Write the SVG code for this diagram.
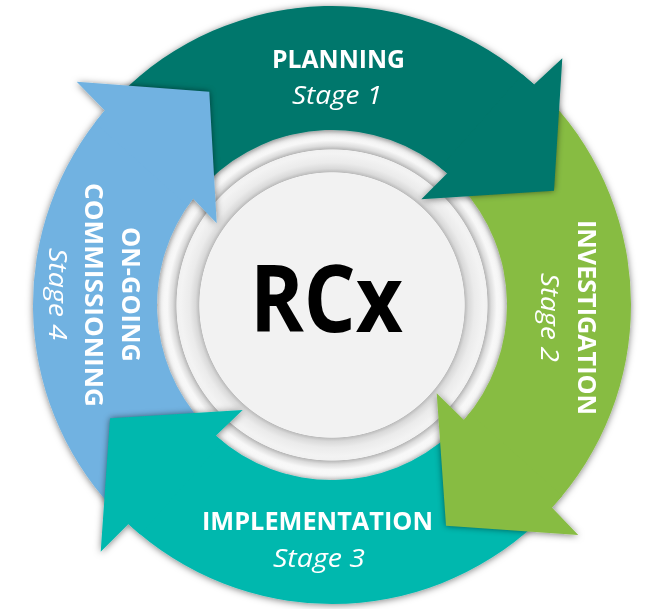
<svg xmlns="http://www.w3.org/2000/svg" xmlns:xlink="http://www.w3.org/1999/xlink" width="646" height="609" viewBox="0 0 646 609">
<defs>
<style>
.lbl{font-family:"Open Sans","Liberation Sans",sans-serif;font-weight:700;font-size:25px;fill:#ffffff;text-anchor:middle}
.stg{font-family:"Open Sans","Liberation Sans",sans-serif;font-style:italic;font-size:26px;fill:#ffffff;text-anchor:middle}
.core{font-family:"Open Sans","Liberation Sans",sans-serif;font-weight:700;font-size:94px;fill:#000000;text-anchor:middle}
.p{fill:#02776c}.g{fill:#87bc43}.t{fill:#00b8ae}.b{fill:#71b2e1}
.hs{fill:#000000;opacity:0.5}
</style>
<radialGradient id="ring" gradientUnits="userSpaceOnUse" cx="332" cy="305" r="176">
<stop offset="0" stop-color="#f2f2f2"/>
<stop offset="0.752" stop-color="#f2f2f2"/>
<stop offset="0.756" stop-color="#bdbdbd"/>
<stop offset="0.775" stop-color="#d9d9d9"/>
<stop offset="0.81" stop-color="#ebebeb"/>
<stop offset="0.86" stop-color="#f3f3f3"/>
<stop offset="0.882" stop-color="#f1f1f1"/>
<stop offset="0.886" stop-color="#b9b9b9"/>
<stop offset="0.905" stop-color="#dcdcdc"/>
<stop offset="0.935" stop-color="#f7f7f7"/>
<stop offset="0.97" stop-color="#fbfbfb"/>
<stop offset="1" stop-color="#ececec"/>
</radialGradient>
<filter id="ds" x="-10%" y="-10%" width="120%" height="120%">
<feDropShadow dx="0" dy="1" stdDeviation="3.5" flood-color="#000000" flood-opacity="0.5"/>
</filter>
<filter id="blur" x="-20%" y="-20%" width="140%" height="140%">
<feGaussianBlur stdDeviation="3"/>
</filter>
<path id="band-p" d="M118.74,95.43 A299,299 0 0 1 534.07,84.61 L447.27,173.33 A175,175 0 0 0 207.18,182.34 Z"/>
<path id="band-g" d="M550.67,101.08 A299,299 0 0 1 551.88,507.61 L464,419.9 A175,175 0 0 0 459.99,185.65 Z"/>
<path id="band-t" d="M535.92,523.67 A299,299 0 0 1 128.46,524.03 L215.81,435.87 A175,175 0 0 0 451.35,432.99 Z"/>
<path id="band-b" d="M111.91,507.39 A299,299 0 0 1 104.81,110.61 L193.07,198.59 A175,175 0 0 0 203.18,423.45 Z"/>
<path id="head-p" d="M522.34,74.41 A299,299 0 0 1 534.07,84.61 L562.3,58.3 L554,190.7 L421.3,199.3 L447.27,173.33 A175,175 0 0 0 440.22,167.47 Z"/>
<path id="head-g" d="M562.22,495.79 A299,299 0 0 1 551.88,507.61 L578.3,535 L446,525.7 L436.7,393.3 L464,419.9 A175,175 0 0 0 469.78,412.9 Z"/>
<path id="head-t" d="M140.21,534.38 A299,299 0 0 1 128.46,524.03 L100.7,551.7 L110,418.3 L242.7,410 L215.81,435.87 A175,175 0 0 0 222.82,441.77 Z"/>
<path id="head-b" d="M94.95,122.77 A299,299 0 0 1 104.81,110.61 L76.7,81.7 L209.3,91.7 L216.7,223.3 L193.07,198.59 A175,175 0 0 0 187.69,206 Z"/>
<clipPath id="clip-p"><use xlink:href="#band-p"/></clipPath>
<clipPath id="clip-g"><use xlink:href="#band-g"/></clipPath>
<clipPath id="clip-t"><use xlink:href="#band-t"/></clipPath>
<clipPath id="clip-b"><use xlink:href="#band-b"/></clipPath>
</defs>

<g id="hub">
<circle cx="332" cy="305" r="176" fill="url(#ring)"/>
<text class="core" x="326.5" y="332" textLength="153" lengthAdjust="spacingAndGlyphs">RCx</text>
</g>

<g id="cycle" filter="url(#ds)">
<g id="bands">
<use xlink:href="#band-p" class="p"/>
<use xlink:href="#band-g" class="g"/>
<use xlink:href="#band-t" class="t"/>
<use xlink:href="#band-b" class="b"/>
</g>
<g id="head-shadows" filter="url(#blur)">
<g clip-path="url(#clip-g)"><use xlink:href="#head-p" class="hs"/></g>
<g clip-path="url(#clip-t)"><use xlink:href="#head-g" class="hs"/></g>
<g clip-path="url(#clip-b)"><use xlink:href="#head-t" class="hs"/></g>
<g clip-path="url(#clip-p)"><use xlink:href="#head-b" class="hs"/></g>
</g>
<g id="heads">
<use xlink:href="#head-p" class="p"/>
<use xlink:href="#head-g" class="g"/>
<use xlink:href="#head-t" class="t"/>
<use xlink:href="#head-b" class="b"/>
</g>
</g>

<g id="stage-1-planning">
<text class="lbl" x="338.5" y="68" textLength="133" lengthAdjust="spacingAndGlyphs">PLANNING</text>
<text class="stg" x="337" y="104" textLength="90" lengthAdjust="spacingAndGlyphs">Stage 1</text>
</g>
<g id="stage-2-investigation">
<text class="lbl" transform="translate(578,317.5) rotate(90)" textLength="195" lengthAdjust="spacingAndGlyphs">INVESTIGATION</text>
<text class="stg" transform="translate(541,317.5) rotate(90)" textLength="89" lengthAdjust="spacingAndGlyphs">Stage 2</text>
</g>
<g id="stage-3-implementation">
<text class="lbl" x="317.5" y="530" textLength="231" lengthAdjust="spacingAndGlyphs">IMPLEMENTATION</text>
<text class="stg" x="319" y="567" textLength="92" lengthAdjust="spacingAndGlyphs">Stage 3</text>
</g>
<g id="stage-4-commissioning">
<text class="lbl" transform="translate(122,294.5) rotate(90)" textLength="135" lengthAdjust="spacingAndGlyphs">ON-GOING</text>
<text class="lbl" transform="translate(85,295) rotate(90)" textLength="224" lengthAdjust="spacingAndGlyphs">COMMISSIONING</text>
<text class="stg" transform="translate(49,294) rotate(90)" textLength="92" lengthAdjust="spacingAndGlyphs">Stage 4</text>
</g>
</svg>
